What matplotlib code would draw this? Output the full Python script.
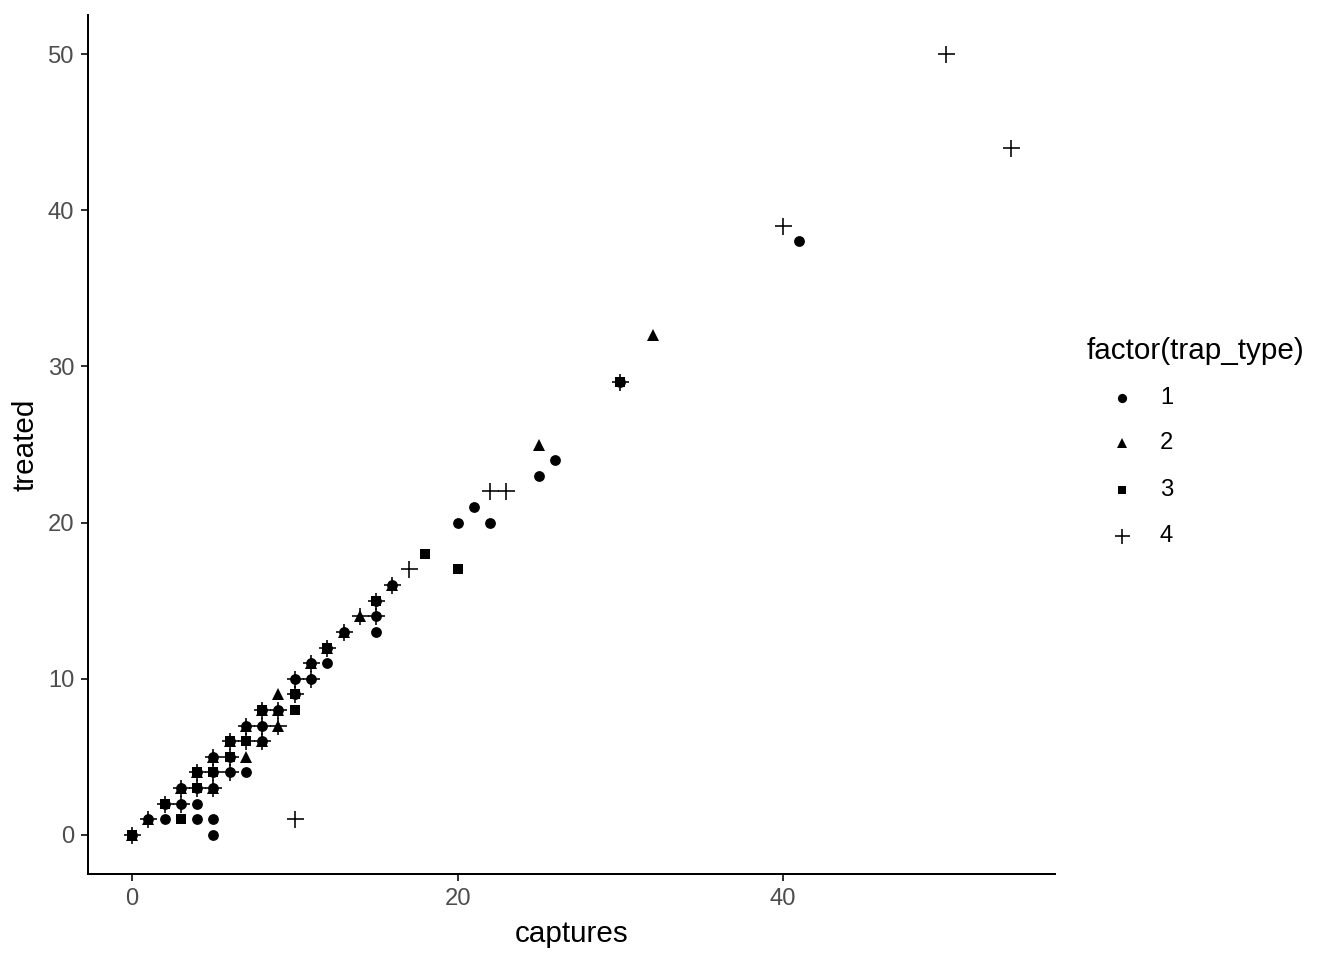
import matplotlib
matplotlib.use("Agg")
import matplotlib.pyplot as plt
from matplotlib.lines import Line2D

plt.rcParams['font.family'] = ['Liberation Sans', 'DejaVu Sans']

# trap type 1 (circle)
t1_x = [0,1,2,2,3,3,4,4,4,4,5,5,5,5,5,6,6,6,7,7,8,8,8,9,10,10,11,11,12,12,13,15,15,15,16,20,21,22,25,26,30,41]
t1_y = [0,1,2,1,3,2,4,3,2,1,5,4,3,1,0,6,5,4,7,4,8,7,6,8,10,9,11,10,12,11,13,15,14,13,16,20,21,20,23,24,29,38]
# trap type 2 (triangle)
t2_x = [0,1,3,4,5,5,6,7,7,8,8,9,9,9,11,12,13,14,16,25,32]
t2_y = [0,1,3,4,5,3,6,7,5,8,6,9,8,7,11,12,13,14,16,25,32]
# trap type 3 (square)
t3_x = [0,2,3,4,4,5,6,6,7,8,10,10,12,15,18,20,30]
t3_y = [0,2,1,4,3,4,6,5,6,8,9,8,12,15,18,17,29]
# trap type 4 (plus)
t4_x = [0,1,2,3,3,4,4,5,5,5,6,6,6,7,7,8,8,8,9,9,10,10,11,11,12,13,14,15,15,16,17,10,22,23,30,40,50,54]
t4_y = [0,1,2,3,2,4,3,5,4,3,6,5,4,7,6,8,7,6,8,7,10,9,11,10,12,13,14,15,14,16,17,1,22,22,29,39,50,44]

labels = ["1", "2", "3", "4"]
series = [(t1_x, t1_y), (t2_x, t2_y), (t3_x, t3_y), (t4_x, t4_y)]
markers = ['o', '^', 's', '+']
msizes = [5.4, 6.4, 5.0, 8.5]

W, H, DPI = 1344, 960, 144
fig = plt.figure(figsize=(W/DPI, H/DPI), dpi=DPI)
ax = fig.add_axes([88/W, 1-874/H, (1055-88)/W, (874-15)/H])

for (xs, ys), m, ms in zip(series, markers, msizes):
    ax.plot(xs, ys, linestyle='none', marker=m, markersize=ms, color='black',
            markeredgewidth=0.8 if m == '+' else 0.0, clip_on=False)

ax.set_xlim(-2.7, 56.7)
ax.set_ylim(-2.5, 52.5)
ax.set_xticks([0, 20, 40])
ax.set_yticks([0, 10, 20, 30, 40, 50])
for s in ['top', 'right']:
    ax.spines[s].set_visible(False)
for s in ['left', 'bottom']:
    ax.spines[s].set_linewidth(1.0)
    ax.spines[s].set_color('black')
ax.tick_params(axis='both', length=3.5, width=1.0, color='#333333',
               labelsize=11.9, labelcolor='#4D4D4D', pad=3.5)
ax.set_xlabel('captures', fontsize=14.8, labelpad=5)
ax.set_ylabel('treated', fontsize=14.8, labelpad=4)

# legend
fig.text(1087/W, 1-351/H, 'factor(trap_type)', fontsize=14.8, va='center', ha='left')
ys_leg = [398, 443, 490, 536]
leg_sizes = [4.6, 5.4, 4.2, 7.5]
for lab, m, ms, yy in zip(labels, markers, leg_sizes, ys_leg):
    fig.add_artist(Line2D([1122/W], [1-yy/H], marker=m, markersize=ms, color='black',
                          linestyle='none', markeredgewidth=0.8 if m == '+' else 0.0,
                          transform=fig.transFigure))
    fig.text(1160/W, 1-yy/H, lab, fontsize=11.9, va='center', ha='left')

fig.savefig('out.png', dpi=DPI)
